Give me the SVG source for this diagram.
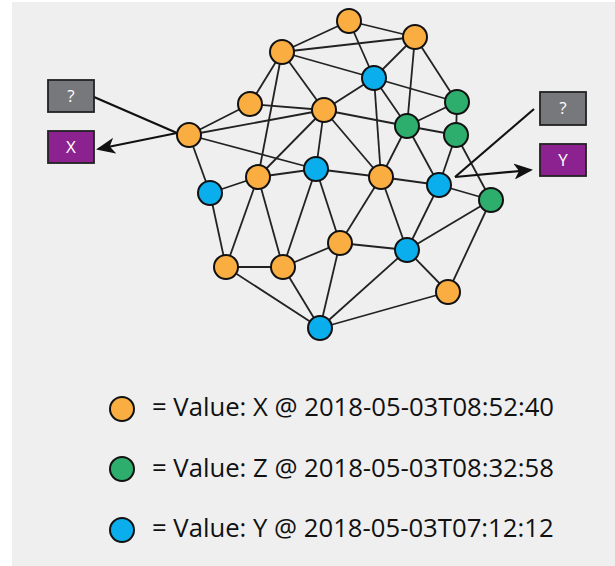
<svg xmlns="http://www.w3.org/2000/svg" width="615" height="566" viewBox="0 0 615 566">
<defs>
<style>
.e{stroke:#222;stroke-width:1.8;fill:none}
.n{stroke:#111;stroke-width:2}
.o{fill:#FAAE42}
.g{fill:#2EAE6C}
.b{fill:#0BAEEC}
.a{stroke:#111;stroke-width:2.2;fill:none}
.q{fill:#77787B;stroke:#222;stroke-width:1.8}
.p{fill:#8B2290;stroke:#222;stroke-width:1.8}
.bt{font-family:"Open Sans","Noto Sans",sans-serif;font-size:17px;fill:#fff;text-anchor:middle}
.lt{font-family:"Open Sans","Noto Sans",sans-serif;font-size:25.7px;fill:#111}
</style>
<marker id="ah" markerUnits="userSpaceOnUse" markerWidth="20" markerHeight="16" refX="17" refY="8" orient="auto">
<path d="M0,0 L19,8 L0,16 L5,8 z" fill="#111"/>
</marker>
</defs>
<rect x="12" y="2" width="603" height="564" fill="#EFEFEF"/>
<g id="connectors">
<line class="e" x1="349" y1="21" x2="415" y2="37"/>
<line class="e" x1="349" y1="21" x2="282" y2="52"/>
<line class="e" x1="349" y1="21" x2="374" y2="78"/>
<line class="e" x1="282" y1="52" x2="415" y2="37"/>
<line class="e" x1="282" y1="52" x2="374" y2="78"/>
<line class="e" x1="282" y1="52" x2="250" y2="104"/>
<line class="e" x1="282" y1="52" x2="258" y2="177"/>
<line class="e" x1="282" y1="52" x2="324" y2="110"/>
<line class="e" x1="415" y1="37" x2="374" y2="78"/>
<line class="e" x1="415" y1="37" x2="407" y2="126"/>
<line class="e" x1="415" y1="37" x2="457" y2="102"/>
<line class="e" x1="374" y1="78" x2="324" y2="110"/>
<line class="e" x1="374" y1="78" x2="457" y2="102"/>
<line class="e" x1="374" y1="78" x2="381" y2="177"/>
<line class="e" x1="374" y1="78" x2="407" y2="126"/>
<line class="e" x1="407" y1="126" x2="439" y2="185"/>
<line class="e" x1="324" y1="110" x2="250" y2="104"/>
<line class="e" x1="324" y1="110" x2="189" y2="135"/>
<line class="e" x1="189" y1="135" x2="250" y2="104"/>
<line class="e" x1="324" y1="110" x2="407" y2="126"/>
<line class="e" x1="324" y1="110" x2="258" y2="177"/>
<line class="e" x1="324" y1="110" x2="316" y2="169"/>
<line class="e" x1="324" y1="110" x2="381" y2="177"/>
<line class="e" x1="457" y1="102" x2="407" y2="126"/>
<line class="e" x1="457" y1="102" x2="456" y2="135"/>
<line class="e" x1="407" y1="126" x2="456" y2="135"/>
<line class="e" x1="407" y1="126" x2="381" y2="177"/>
<line class="e" x1="456" y1="135" x2="439" y2="185"/>
<line class="e" x1="456" y1="135" x2="491" y2="200"/>
<line class="e" x1="189" y1="135" x2="316" y2="169"/>
<line class="e" x1="189" y1="135" x2="210" y2="193"/>
<line class="e" x1="316" y1="169" x2="258" y2="177"/>
<line class="e" x1="316" y1="169" x2="381" y2="177"/>
<line class="e" x1="316" y1="169" x2="340" y2="243"/>
<line class="e" x1="316" y1="169" x2="283" y2="267"/>
<line class="e" x1="258" y1="177" x2="210" y2="193"/>
<line class="e" x1="258" y1="177" x2="226" y2="267"/>
<line class="e" x1="258" y1="177" x2="283" y2="267"/>
<line class="e" x1="381" y1="177" x2="439" y2="185"/>
<line class="e" x1="381" y1="177" x2="340" y2="243"/>
<line class="e" x1="381" y1="177" x2="407" y2="250"/>
<line class="e" x1="439" y1="185" x2="491" y2="200"/>
<line class="e" x1="439" y1="185" x2="407" y2="250"/>
<line class="e" x1="210" y1="193" x2="226" y2="267"/>
<line class="e" x1="491" y1="200" x2="407" y2="250"/>
<line class="e" x1="491" y1="200" x2="448" y2="292"/>
<line class="e" x1="340" y1="243" x2="407" y2="250"/>
<line class="e" x1="340" y1="243" x2="283" y2="267"/>
<line class="e" x1="340" y1="243" x2="320" y2="328"/>
<line class="e" x1="407" y1="250" x2="448" y2="292"/>
<line class="e" x1="407" y1="250" x2="320" y2="328"/>
<line class="e" x1="226" y1="267" x2="283" y2="267"/>
<line class="e" x1="226" y1="267" x2="320" y2="328"/>
<line class="e" x1="283" y1="267" x2="320" y2="328"/>
<line class="e" x1="448" y1="292" x2="320" y2="328"/>
<line class="a" x1="94" y1="97" x2="177" y2="133"/>
<line class="a" x1="177" y1="133" x2="98" y2="149" marker-end="url(#ah)"/>
<line class="a" x1="534" y1="109" x2="455" y2="177"/>
<line class="a" x1="455" y1="177" x2="531" y2="170" marker-end="url(#ah)"/>
</g>
<g id="n1"><circle class="n o" cx="349" cy="21" r="12"/></g>
<g id="n2"><circle class="n o" cx="415" cy="37" r="12"/></g>
<g id="n3"><circle class="n o" cx="282" cy="52" r="12"/></g>
<g id="n4"><circle class="n b" cx="374" cy="78" r="12"/></g>
<g id="n5"><circle class="n o" cx="250" cy="104" r="12"/></g>
<g id="n6"><circle class="n o" cx="324" cy="110" r="12"/></g>
<g id="n7"><circle class="n g" cx="457" cy="102" r="12"/></g>
<g id="n8"><circle class="n g" cx="407" cy="126" r="12"/></g>
<g id="n9"><circle class="n g" cx="456" cy="135" r="12"/></g>
<g id="n10"><circle class="n o" cx="189" cy="135" r="12"/></g>
<g id="n11"><circle class="n b" cx="316" cy="169" r="12"/></g>
<g id="n12"><circle class="n o" cx="258" cy="177" r="12"/></g>
<g id="n13"><circle class="n o" cx="381" cy="177" r="12"/></g>
<g id="n14"><circle class="n b" cx="439" cy="185" r="12"/></g>
<g id="n15"><circle class="n b" cx="210" cy="193" r="12"/></g>
<g id="n16"><circle class="n g" cx="491" cy="200" r="12"/></g>
<g id="n17"><circle class="n o" cx="340" cy="243" r="12"/></g>
<g id="n18"><circle class="n b" cx="407" cy="250" r="12"/></g>
<g id="n19"><circle class="n o" cx="226" cy="267" r="12"/></g>
<g id="n20"><circle class="n o" cx="283" cy="267" r="12"/></g>
<g id="n21"><circle class="n o" cx="448" cy="292" r="12"/></g>
<g id="n22"><circle class="n b" cx="320" cy="328" r="12"/></g>
<g id="boxQL"><rect class="q" x="48" y="80" width="46" height="32"/><text class="bt" x="71" y="102">?</text></g>
<g id="boxX"><rect class="p" x="48" y="131" width="46" height="32"/><text class="bt" x="71" y="153">X</text></g>
<g id="boxQR"><rect class="q" x="540" y="92" width="46" height="33"/><text class="bt" x="563" y="114">?</text></g>
<g id="boxY"><rect class="p" x="540" y="144" width="46" height="32"/><text class="bt" x="563" y="166">Y</text></g>
<g id="legendX"><circle class="n o" cx="122" cy="409" r="12"/><text class="lt" x="152" y="416">= Value: X @ 2018-05-03T08:52:40</text></g>
<g id="legendZ"><circle class="n g" cx="122" cy="469" r="12"/><text class="lt" x="152" y="477">= Value: Z @ 2018-05-03T08:32:58</text></g>
<g id="legendY"><circle class="n b" cx="122" cy="530" r="12"/><text class="lt" x="152" y="537">= Value: Y @ 2018-05-03T07:12:12</text></g>
</svg>
